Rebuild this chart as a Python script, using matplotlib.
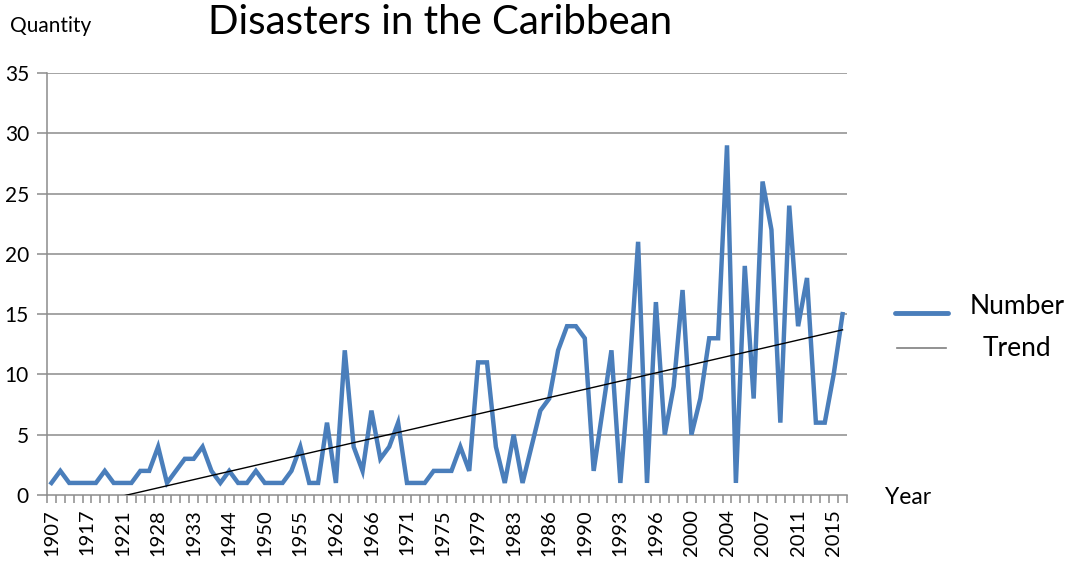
import matplotlib.pyplot as plt
from matplotlib.lines import Line2D
import numpy as np

# number of disasters per record (90 records, labels shown every 4th)
numero = [1, 2, 1, 1, 1, 1, 2, 1, 1, 1, 2, 2, 4, 1,
          2, 3, 3, 4, 2, 1, 2, 1, 1, 2, 1, 1, 1, 2, 4, 1,
          1, 6, 1, 12, 4, 2, 7, 3, 4, 6, 1,
          1, 1, 2, 2, 2, 4, 2, 11, 11, 4, 1, 5, 1,
          4, 7, 8, 12, 14, 14, 13, 2, 7, 12,
          1, 10, 21, 1, 16, 5, 9, 17, 5, 8, 13, 13, 29,
          1, 19, 8, 26, 22, 6, 24, 14, 18, 6, 6, 10, 15]

anios_etiqueta = ['1907', '1917', '1921', '1928', '1933', '1944', '1950', '1955',
                  '1962', '1966', '1971', '1975', '1979', '1983', '1986', '1990',
                  '1993', '1996', '2000', '2004', '2007', '2011', '2015']

# linear trend, value at the first and at the last record
tendencia = [-1.45, 13.7]

plt.rcParams['font.family'] = ['Lato', 'DejaVu Sans']

x = np.arange(len(numero))

fig = plt.figure(figsize=(10.67, 5.63), dpi=100)
ax = fig.add_axes([47/1067, 1 - 495/563, 800/1067, 422/563])

gris = '#8c8c8c'
for v in range(5, 40, 5):
    ax.axhline(v, color=gris, lw=1.1, zorder=1)

ax.plot(x, numero, color='#4a7ebb', lw=3.2, solid_joinstyle='miter', zorder=3)
ax.plot([x[0], x[-1]], tendencia, color='black', lw=1, zorder=4)

ax.set_xlim(-0.5, len(numero) - 0.5)
ax.set_ylim(0, 35)
ax.set_yticks(range(0, 40, 5))
ax.set_yticklabels([str(v) for v in range(0, 40, 5)], fontsize=15)
ax.set_xticks(np.arange(0, len(numero), 4))
ax.set_xticklabels(anios_etiqueta, rotation=90, fontsize=14.5)
ax.set_xticks(np.arange(-0.5, len(numero), 1), minor=True)
ax.tick_params(axis='x', which='major', length=0, pad=10)
ax.tick_params(axis='x', which='minor', length=6, color=gris, width=1.1)
ax.tick_params(axis='y', length=7, color=gris, width=1.1, pad=6)

for s in ['top', 'right']:
    ax.spines[s].set_visible(False)
for s in ['left', 'bottom']:
    ax.spines[s].set_color(gris)
    ax.spines[s].set_linewidth(1.1)

fig.text(440/1067, 1 - 22/563, 'Disasters in the Caribbean', fontsize=29,
         ha='center', va='center')
fig.text(10/1067, 1 - 26/563, 'Quantity', fontsize=15, ha='left', va='center')
fig.text(885/1067, 1 - 497/563, 'Year', fontsize=16.5, ha='left', va='center')

# leyenda
fig.add_artist(Line2D([895/1067, 948/1067], [1 - 313/563, 1 - 313/563],
                      color='#4a7ebb', lw=3.5, solid_capstyle='round'))
fig.add_artist(Line2D([897/1067, 946/1067], [1 - 348/563, 1 - 348/563],
                      color='#7f7f7f', lw=1.2))
fig.text(1017/1067, 1 - 306/563, 'Number', fontsize=19, ha='center', va='center')
fig.text(1017/1067, 1 - 348/563, 'Trend', fontsize=19, ha='center', va='center')

plt.savefig('out.png', dpi=100)
